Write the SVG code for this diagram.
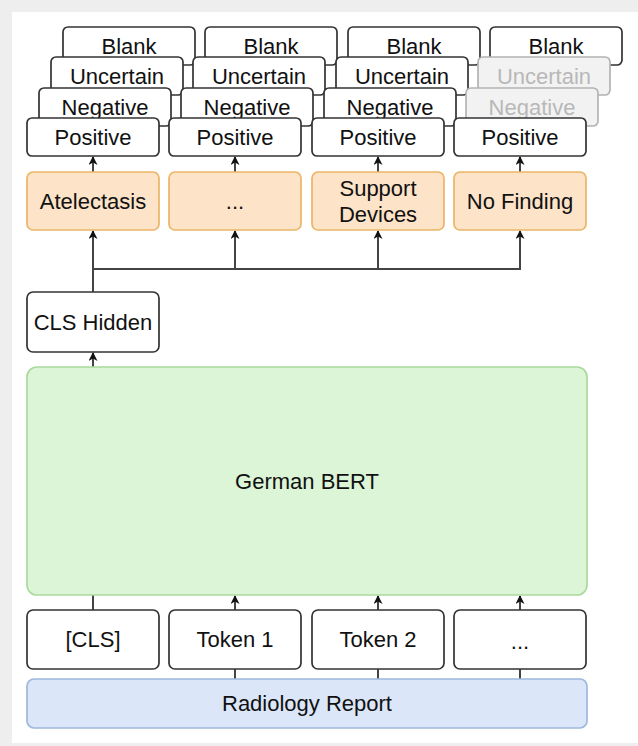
<svg xmlns="http://www.w3.org/2000/svg" width="638" height="746" viewBox="0 0 638 746">
<defs>
<marker id="arr" viewBox="0 0 10 10" refX="9" refY="5" markerWidth="10" markerHeight="9" orient="auto" markerUnits="userSpaceOnUse">
<path d="M0,0 L10,5 L0,10 L3,5 Z" fill="#111"/>
</marker>
<style>
.b{fill:#fff;stroke:#333;stroke-width:1.7}
.g{fill:#f2f2f2;stroke:#b3b3b3;stroke-width:1.7}
.o{fill:#fde3c8;stroke:#eab565;stroke-width:1.7}
.gr{fill:#dcf5d7;stroke:#a9da9c;stroke-width:1.7}
.bl{fill:#dbe7f8;stroke:#9fb8dc;stroke-width:1.7}
text{font-family:"Liberation Sans",Arial,sans-serif;font-size:22px;fill:#111;text-anchor:middle}
.gt{fill:#b8b8b8}
.c{fill:none;stroke:#444;stroke-width:2}
</style>
</defs>
<rect x="0" y="0" width="638" height="746" fill="#eeeeee"/>
<rect x="12" y="12" width="626" height="731" fill="#ffffff"/>

<g id="connectors">
<path class="c" d="M93,172 V157" marker-end="url(#arr)"/>
<path class="c" d="M235,172 V157" marker-end="url(#arr)"/>
<path class="c" d="M378,172 V157" marker-end="url(#arr)"/>
<path class="c" d="M520,172 V157" marker-end="url(#arr)"/>
<path class="c" d="M93,292 V231" marker-end="url(#arr)"/>
<path class="c" d="M93,269 H520 V231" marker-end="url(#arr)"/>
<path class="c" d="M235,269 V231" marker-end="url(#arr)"/>
<path class="c" d="M378,269 V231" marker-end="url(#arr)"/>
<path class="c" d="M93,367 V353" marker-end="url(#arr)"/>
<path class="c" d="M93,610 V595"/>
<path class="c" d="M235,610 V596" marker-end="url(#arr)"/>
<path class="c" d="M378,610 V596" marker-end="url(#arr)"/>
<path class="c" d="M520,610 V596" marker-end="url(#arr)"/>
<path class="c" d="M235,679 V669"/>
<path class="c" d="M378,679 V669"/>
<path class="c" d="M520,679 V669"/>
</g>

<g id="blank1"><rect class="b" x="63" y="27" width="132" height="38" rx="5"/><text x="129" y="54">Blank</text></g>
<g id="blank2"><rect class="b" x="205" y="27" width="132" height="38" rx="5"/><text x="271" y="54">Blank</text></g>
<g id="blank3"><rect class="b" x="348" y="27" width="132" height="38" rx="5"/><text x="414" y="54">Blank</text></g>
<g id="blank4"><rect class="b" x="490" y="27" width="132" height="38" rx="5"/><text x="556" y="54">Blank</text></g>

<g id="uncertain1"><rect class="b" x="51" y="57" width="132" height="38" rx="5"/><text x="117" y="84">Uncertain</text></g>
<g id="uncertain2"><rect class="b" x="193" y="57" width="132" height="38" rx="5"/><text x="259" y="84">Uncertain</text></g>
<g id="uncertain3"><rect class="b" x="336" y="57" width="132" height="38" rx="5"/><text x="402" y="84">Uncertain</text></g>
<g id="uncertain4"><rect class="g" x="478" y="57" width="132" height="38" rx="5"/><text class="gt" x="544" y="84">Uncertain</text></g>

<g id="negative1"><rect class="b" x="39" y="88" width="132" height="38" rx="5"/><text x="105" y="115">Negative</text></g>
<g id="negative2"><rect class="b" x="181" y="88" width="132" height="38" rx="5"/><text x="247" y="115">Negative</text></g>
<g id="negative3"><rect class="b" x="324" y="88" width="132" height="38" rx="5"/><text x="390" y="115">Negative</text></g>
<g id="negative4"><rect class="g" x="466" y="88" width="132" height="38" rx="5"/><text class="gt" x="532" y="115">Negative</text></g>

<g id="positive1"><rect class="b" x="27" y="118" width="132" height="38" rx="5"/><text x="93" y="145">Positive</text></g>
<g id="positive2"><rect class="b" x="169" y="118" width="132" height="38" rx="5"/><text x="235" y="145">Positive</text></g>
<g id="positive3"><rect class="b" x="312" y="118" width="132" height="38" rx="5"/><text x="378" y="145">Positive</text></g>
<g id="positive4"><rect class="b" x="454" y="118" width="132" height="38" rx="5"/><text x="520" y="145">Positive</text></g>

<g id="atelectasis"><rect class="o" x="27" y="172" width="132" height="58" rx="6"/><text x="93" y="209">Atelectasis</text></g>
<g id="ellipsis-finding"><rect class="o" x="169" y="172" width="132" height="58" rx="6"/><text x="235" y="209">...</text></g>
<g id="support-devices"><rect class="o" x="312" y="172" width="132" height="58" rx="6"/><text x="378" y="196">Support</text><text x="378" y="222">Devices</text></g>
<g id="no-finding"><rect class="o" x="454" y="172" width="132" height="58" rx="6"/><text x="520" y="209">No Finding</text></g>

<g id="cls-hidden"><rect class="b" x="27" y="292" width="132" height="60" rx="6"/><text x="93" y="330">CLS Hidden</text></g>

<g id="german-bert"><rect class="gr" x="27" y="367" width="560" height="228" rx="10"/><text x="307" y="489">German BERT</text></g>

<g id="token-cls"><rect class="b" x="27" y="610" width="132" height="59" rx="6"/><text x="93" y="647">[CLS]</text></g>
<g id="token1"><rect class="b" x="169" y="610" width="132" height="59" rx="6"/><text x="235" y="647">Token 1</text></g>
<g id="token2"><rect class="b" x="312" y="610" width="132" height="59" rx="6"/><text x="378" y="647">Token 2</text></g>
<g id="token-more"><rect class="b" x="454" y="610" width="132" height="59" rx="6"/><text x="520" y="649">...</text></g>

<g id="radiology-report"><rect class="bl" x="27" y="679" width="560" height="49" rx="7"/><text x="307" y="711">Radiology Report</text></g>
</svg>
